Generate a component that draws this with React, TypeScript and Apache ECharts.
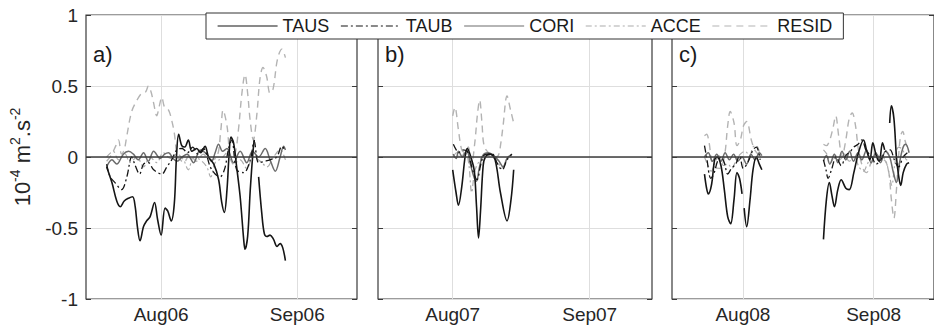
import React, { useEffect, useRef } from 'react';
import * as echarts from 'echarts';

// ---- Data (x = days since Aug 1 of the panel's year, y = 1e-4 m^2 s^-2) ----
const SERIES_NAMES = ['TAUS', 'TAUB', 'CORI', 'ACCE', 'RESID'];
const PANEL_LABELS = ['a)', 'b)', 'c)'];
const YEARS = ['06', '07', '08'];
const MONTH_TICKS = [0, 31];
const MONTH_NAMES = ['Aug', 'Sep'];
const Y_MIN = -1;
const Y_MAX = 1;
const Y_STEP = 0.5;

// Panel a)
const A_TAUS = [[-12.4,-0.07],[-11.2,-0.18],[-10.1,-0.31],[-9.3,-0.35],[-8.4,-0.31],[-7.4,-0.29],[-6.5,-0.28],[-5.9,-0.35],[-5.4,-0.49],[-4.8,-0.59],[-4.0,-0.49],[-3.3,-0.45],[-2.5,-0.42],[-1.5,-0.32],[-0.8,-0.44],[0,-0.55],[0.9,-0.36],[1.5,-0.38],[2.3,-0.45],[3.0,-0.33],[3.5,0.0],[4.0,0.16],[4.7,0.08],[5.4,0.07],[6.2,0.12],[7.0,0.04],[8.1,0.06],[9.0,0.03],[10.0,0.075],[10.8,0.0],[12.0,-0.05],[13.1,-0.16],[13.8,-0.32],[14.4,-0.39],[15.0,-0.23],[15.5,0.03],[15.9,0.14],[16.5,0.1],[17.2,-0.07],[18.0,-0.28],[18.8,-0.58],[19.1,-0.65],[19.7,-0.56],[20.3,-0.23],[20.9,0.03],[21.2,0.12],[21.7,'-'],[22.2,-0.14],[22.9,-0.39],[23.5,-0.54],[24.1,-0.56],[24.8,-0.55],[25.6,-0.58],[26.4,-0.63],[27.1,-0.61],[27.7,-0.64],[28.3,-0.73]];
const A_TAUB = [[-12.4,-0.05],[-11.6,-0.14],[-10.5,-0.18],[-9.0,-0.23],[-7.8,-0.14],[-6.7,0.0],[-5.9,-0.06],[-4.9,-0.12],[-4.0,-0.05],[-2.9,-0.04],[-1.7,-0.09],[0.15,-0.12],[1.3,-0.07],[2.4,-0.02],[3.6,0.05],[4.8,0.06],[6.0,0.03],[7.2,0.07],[8.4,0.02],[9.6,0.06],[11.2,-0.07],[12.3,-0.12],[13.4,-0.14],[14.5,-0.08],[15.3,0.05],[16.1,0.12],[17.2,-0.09],[18.8,-0.11],[20.3,-0.02],[21.2,0.11],[22.2,-0.04],[23.6,-0.03],[24.8,-0.02],[26.3,0.0],[27.5,0.075],[28.3,0.04]];
const A_CORI = [[-12.4,-0.07],[-11.2,-0.02],[-10.1,-0.05],[-8.6,0.02],[-7.4,0.04],[-6.3,0.02],[-5.2,-0.02],[-4.0,0.03],[-2.9,-0.03],[-1.7,0.04],[-0.2,-0.01],[0.8,0.02],[1.7,0.03],[2.7,-0.01],[3.6,-0.03],[4.8,0.0],[5.9,0.02],[7.4,-0.04],[8.9,0.05],[10.4,0.02],[11.5,-0.03],[12.3,0.03],[13.1,0.09],[14.0,0.04],[15.0,0.06],[16.5,-0.04],[18.0,0.04],[19.5,-0.04],[20.8,0.04],[22.2,0.0],[23.7,0.06],[24.8,-0.02],[26.0,-0.1],[27.1,0.0],[27.9,0.075],[28.3,0.05]];
const A_ACCE = [[-12.4,0.0],[-10.9,0.04],[-9.7,-0.02],[-8.2,0.02],[-7.1,-0.04],[-5.5,0.0],[-4.0,-0.07],[-2.5,0.0],[-1.0,-0.04],[0.5,0.03],[2.1,-0.01],[3.6,0.02],[5.1,-0.02],[6.2,-0.09],[7.4,0.0],[8.9,-0.02],[10.4,-0.07],[11.3,-0.14],[12.3,-0.04],[13.8,-0.01],[15.0,0.03],[16.5,-0.05],[18.0,-0.02],[19.5,-0.08],[21.0,0.0],[22.6,-0.03],[24.1,-0.07],[25.6,0.0],[27.1,0.05],[28.3,-0.02]];
const A_RESID = [[-12.4,-0.03],[-11.2,0.02],[-10.3,0.08],[-9.7,0.12],[-9.0,0.02],[-8.4,0.05],[-7.8,0.15],[-6.7,0.32],[-5.5,0.40],[-4.4,0.45],[-3.5,0.46],[-2.9,0.50],[-2.3,0.46],[-1.7,0.38],[-1.0,0.29],[-0.4,0.36],[0.15,0.42],[0.8,0.35],[1.7,0.33],[2.4,0.26],[3.0,0.17],[3.7,0.0],[4.4,-0.02],[5.1,-0.04],[6.6,0.02],[8.0,-0.03],[9.6,0.02],[11.0,-0.02],[12.7,0.0],[13.6,0.19],[14.1,0.33],[15.0,0.22],[15.9,0.0],[16.8,0.02],[17.6,0.19],[18.4,0.45],[19.1,0.58],[19.7,0.45],[20.3,0.25],[21.0,0.12],[21.8,0.3],[22.5,0.55],[23.2,0.63],[24.0,0.57],[24.8,0.45],[25.5,0.48],[26.5,0.69],[27.5,0.76],[28.3,0.70]];

// Panel b)
const B_TAUS = [[0,-0.09],[0.76,-0.25],[1.3,-0.34],[2.05,-0.21],[2.8,0.0],[3.3,0.06],[4.3,-0.02],[4.9,-0.1],[5.4,-0.35],[5.85,-0.57],[6.3,-0.38],[6.9,-0.06],[7.4,0.0],[8.5,0.02],[9.6,-0.02],[10.8,-0.25],[12.3,-0.45],[13.2,-0.3],[13.8,-0.09]];
const B_TAUB = [[0.15,0.09],[0.8,0.05],[1.3,0.03],[2.2,0.05],[3.3,0.04],[4.0,-0.03],[4.7,-0.11],[5.5,-0.16],[6.3,-0.06],[7.0,0.01],[7.8,0.02],[9.0,0.02],[10.0,-0.04],[11.2,-0.09],[12.3,-0.02],[13.4,0.02]];
const B_CORI = [[0.1,0.02],[0.8,-0.01],[1.3,0.04],[2.2,0.0],[3.2,0.05],[4.0,-0.05],[4.9,-0.15],[5.4,-0.17],[6.0,-0.08],[6.8,0.01],[8.0,0.03],[9.3,0.01],[10.5,-0.03],[11.4,-0.07],[12.3,-0.01],[13.4,0.02]];
const B_ACCE = [[0.1,0.0],[0.9,0.03],[1.8,-0.01],[2.8,0.04],[3.6,-0.04],[4.3,-0.25],[5.0,-0.1],[6.2,-0.02],[7.4,0.01],[9.0,0.0],[10.3,-0.04],[11.0,-0.08],[11.7,-0.06],[12.6,0.0],[13.4,0.01]];
const B_RESID = [[0,0.29],[0.5,0.35],[1.3,0.19],[2.05,0.05],[2.8,0.03],[3.5,0.07],[4.3,-0.04],[5.0,0.1],[5.6,0.3],[6.1,0.40],[6.6,0.25],[7.1,0.08],[8.1,0.03],[9.2,0.0],[10.3,0.01],[10.9,0.1],[11.4,0.22],[12.3,0.43],[13.1,0.33],[13.8,0.24]];

// Panel c)
const C_TAUS = [[-9.1,-0.12],[-8.6,-0.22],[-8.2,-0.26],[-7.4,-0.19],[-6.7,-0.02],[-6.1,0.0],[-5.2,-0.06],[-4.4,-0.23],[-3.6,-0.42],[-2.9,-0.47],[-2.1,-0.3],[-1.4,-0.11],[-0.8,-0.15],[-0.2,-0.26],[0.1,'-'],[0.3,-0.36],[0.9,-0.49],[1.7,-0.3],[2.4,-0.09],[3.2,0.0],[3.9,-0.05],[4.5,-0.09],[5,'-'],[19.1,-0.58],[19.8,-0.3],[20.5,-0.18],[21.1,-0.27],[21.7,-0.35],[22.5,-0.23],[23.3,-0.16],[24.4,-0.22],[25.2,-0.23],[26.3,-0.11],[27.4,0.03],[28.6,0.12],[29.3,0.05],[30.1,-0.02],[30.8,0.10],[31.6,0.01],[32.3,-0.03],[33.1,0.10],[33.6,0.05],[34.2,'-'],[34.8,0.24],[35.2,0.36],[35.8,0.27],[36.4,0.0],[36.9,-0.13],[37.4,-0.2],[38.0,-0.11],[38.8,-0.05],[39.4,-0.04]];
const C_TAUB = [[-9.1,0.08],[-8.6,0.0],[-7.6,-0.15],[-6.9,-0.12],[-6.0,-0.03],[-5.2,0.0],[-4.4,-0.04],[-3.6,-0.12],[-2.7,-0.08],[-1.7,-0.05],[-0.8,0.01],[0.1,-0.08],[1.3,-0.03],[2.4,0.05],[3.2,0.07],[4.1,-0.02],[5,'-'],[19.1,-0.02],[19.7,-0.09],[20.2,-0.15],[21.0,-0.09],[22.1,0.0],[23.3,-0.06],[24.4,0.01],[25.5,0.04],[26.3,0.07],[27.3,0.09],[28.2,0.12],[29.3,0.04],[30.4,0.01],[31.6,-0.05],[32.7,-0.02],[33.8,0.04],[34.9,0.05],[35.9,-0.02],[36.9,-0.07],[38.0,0.0],[39.0,0.03]];
const C_CORI = [[-9.1,0.0],[-8.2,0.03],[-7.2,-0.03],[-6.2,0.02],[-5.2,-0.03],[-4.2,0.03],[-3.2,-0.02],[-2.2,0.02],[-1.2,-0.03],[-0.2,0.0],[0.9,-0.05],[1.9,0.02],[2.9,-0.02],[3.9,0.03],[4.5,0.01],[5,'-'],[19.1,-0.03],[19.8,0.01],[20.6,-0.05],[21.7,0.02],[22.5,-0.04],[23.5,0.04],[24.4,-0.02],[25.3,0.04],[26.2,-0.03],[27.3,0.03],[28.2,-0.02],[29.3,0.05],[30.4,-0.04],[31.5,0.03],[32.6,-0.04],[33.8,0.04],[34.8,0.0],[35.6,-0.1],[36.4,-0.18],[37.2,-0.03],[38.0,0.07],[38.6,0.09],[39.4,0.03]];
const C_ACCE = [[-9.1,0.0],[-8.4,-0.05],[-7.5,-0.1],[-6.6,-0.04],[-5.6,0.01],[-4.6,-0.06],[-3.6,-0.05],[-2.6,-0.08],[-1.6,-0.02],[-0.6,0.02],[0.5,0.04],[1.6,0.01],[2.4,0.07],[3.2,0.08],[4.2,0.0],[5,'-'],[19.1,0.05],[19.9,0.02],[20.8,-0.04],[21.9,0.01],[23.0,-0.02],[24.1,0.02],[25.2,-0.03],[26.5,0.0],[27.5,-0.07],[28.6,-0.1],[29.5,-0.05],[30.6,0.0],[31.7,-0.02],[32.8,0.01],[33.9,-0.03],[34.6,-0.11],[35.3,-0.2],[36.0,-0.05],[36.9,0.07],[37.9,0.05],[38.8,-0.02],[39.4,0.0]];
const C_RESID = [[-9.1,0.15],[-8.6,0.16],[-8.0,0.1],[-7.4,-0.03],[-6.7,-0.07],[-5.5,-0.08],[-4.4,0.0],[-3.6,0.22],[-3.0,0.32],[-2.1,0.24],[-1.4,0.08],[-0.6,0.12],[0.15,0.22],[0.9,0.25],[2.0,0.12],[2.8,0.05],[3.6,0.02],[4.3,0.0],[5,'-'],[19.1,0.09],[19.8,0.08],[20.6,0.12],[21.4,0.21],[22.0,0.29],[22.7,0.15],[23.5,0.0],[24.4,0.12],[25.2,0.27],[25.9,0.31],[26.7,0.22],[27.4,0.05],[28.6,-0.09],[29.3,-0.11],[30.4,-0.04],[31.6,0.02],[32.7,-0.01],[33.8,-0.03],[34.6,-0.11],[35.2,-0.3],[35.8,-0.43],[36.4,-0.23],[36.9,0.0],[37.4,0.15],[37.9,0.18],[38.4,0.12],[39.2,0.04]];

const PANEL_DATA: Record<string, any[]>[] = [
  { TAUS: A_TAUS, TAUB: A_TAUB, CORI: A_CORI, ACCE: A_ACCE, RESID: A_RESID },
  { TAUS: B_TAUS, TAUB: B_TAUB, CORI: B_CORI, ACCE: B_ACCE, RESID: B_RESID },
  { TAUS: C_TAUS, TAUB: C_TAUB, CORI: C_CORI, ACCE: C_ACCE, RESID: C_RESID },
];

// ---- Layout / style ----
const FONT = '"Liberation Sans", Arial, Helvetica, sans-serif';
const GRID_LEFT = [86, 378, 672];
const GRID_WIDTH = [271, 274, 274];
const GRID_TOP = 15;
const GRID_HEIGHT = 284;
const X_RANGE = [[-17.1, 44.6], [-16.9, 45.1], [-16.8, 45.3]];
const GRID_COLOR = '#dedede';
const FRAME_COLOR = '#3a3a3a';
const TEXT_COLOR = '#262626';

const LINE_STYLES: Record<string, any> = {
  TAUS: { color: '#151515', width: 1.6, type: 'solid' },
  TAUB: { color: '#151515', width: 1.3, type: [7, 3, 2, 3] },
  CORI: { color: '#6c6c6c', width: 1.5, type: 'solid' },
  ACCE: { color: '#ababab', width: 1.2, type: [6, 3, 2, 3] },
  RESID: { color: '#b3b3b3', width: 1.4, type: [7, 5] },
};
const DRAW_ORDER = ['RESID', 'ACCE', 'CORI', 'TAUB', 'TAUS'];

function buildOption() {
  const grid: any[] = [];
  const xAxis: any[] = [];
  const yAxis: any[] = [];
  const series: any[] = [];
  const graphic: any[] = [];

  for (let g = 0; g < 3; g++) {
    grid.push({
      left: GRID_LEFT[g], top: GRID_TOP, width: GRID_WIDTH[g], height: GRID_HEIGHT,
      show: true, borderColor: FRAME_COLOR, borderWidth: 1.2, backgroundColor: '#fff',
      containLabel: false,
    });
    const yr = YEARS[g];
    xAxis.push({
      type: 'value', gridIndex: g, position: 'bottom', min: X_RANGE[g][0], max: X_RANGE[g][1],
      axisLine: { show: false, onZero: false },
      axisTick: { show: true, inside: true, length: 5, customValues: MONTH_TICKS, lineStyle: { color: FRAME_COLOR } },
      axisLabel: {
        customValues: MONTH_TICKS, fontSize: 19, color: TEXT_COLOR, fontFamily: FONT, margin: 6,
        formatter: (v: number) => MONTH_NAMES[MONTH_TICKS.indexOf(Math.round(v))] + yr,
      },
      splitLine: { show: false },
    });
    xAxis.push({
      type: 'value', gridIndex: g, position: 'top', min: X_RANGE[g][0], max: X_RANGE[g][1],
      axisLine: { show: false, onZero: false },
      axisTick: { show: true, inside: true, length: 5, customValues: MONTH_TICKS, lineStyle: { color: FRAME_COLOR } },
      axisLabel: { show: false },
      splitLine: { show: false },
    });
    yAxis.push({
      type: 'value', gridIndex: g, position: 'left', min: Y_MIN, max: Y_MAX, interval: Y_STEP,
      axisLine: { show: false, onZero: false },
      axisTick: { show: true, inside: true, length: 5, lineStyle: { color: FRAME_COLOR } },
      axisLabel: { show: g === 0, fontSize: 19, color: TEXT_COLOR, fontFamily: FONT, margin: 8 },
      splitLine: { show: true, lineStyle: { color: GRID_COLOR, width: 1 } },
      name: g === 0 ? '10{s|-4} m{s|2}.s{s|-2}' : '',
      nameLocation: 'middle', nameGap: 50, nameRotate: 90,
      nameTextStyle: {
        fontSize: 22, color: TEXT_COLOR, fontFamily: FONT, lineHeight: 28,
        rich: { s: { fontSize: 14, lineHeight: 14, verticalAlign: 'top', fontFamily: FONT, color: TEXT_COLOR } },
      },
    });
    yAxis.push({
      type: 'value', gridIndex: g, position: 'right', min: Y_MIN, max: Y_MAX, interval: Y_STEP,
      axisLine: { show: false, onZero: false },
      axisTick: { show: true, inside: true, length: 5, lineStyle: { color: FRAME_COLOR } },
      axisLabel: { show: false },
      splitLine: { show: false },
    });

    DRAW_ORDER.forEach((name) => {
      const ls = LINE_STYLES[name];
      const s: any = {
        type: 'line', name, xAxisIndex: 2 * g, yAxisIndex: 2 * g,
        data: PANEL_DATA[g][name], symbol: 'none', showSymbol: false, smooth: 0.35,
        connectNulls: false, clip: true, z: 3,
        lineStyle: { color: ls.color, width: ls.width, type: ls.type },
        itemStyle: { color: ls.color },
        emphasis: { disabled: true },
      };
      if (name === 'RESID') {
        // vertical grid lines at the month ticks
        s.markLine = {
          silent: true, symbol: ['none', 'none'], label: { show: false }, z: 1,
          lineStyle: { color: GRID_COLOR, width: 1, type: 'solid' },
          emphasis: { disabled: true },
          data: MONTH_TICKS.map((t) => ({ xAxis: t })),
        };
      }
      if (name === 'TAUS') {
        s.markLine = {
          silent: true, symbol: ['none', 'none'], label: { show: false },
          lineStyle: { color: '#3c3c3c', width: 1.6, type: 'solid' },
          emphasis: { disabled: true },
          data: [{ yAxis: 0 }],
        };
      }
      series.push(s);
    });

    graphic.push({
      type: 'text', left: GRID_LEFT[g] + 7, top: 43, z: 10,
      style: { text: PANEL_LABELS[g], fontSize: 22, fill: '#1a1a1a', fontFamily: FONT },
    });
  }

  return {
    animation: false,
    backgroundColor: '#fff',
    grid, xAxis, yAxis, series, graphic,
    legend: {
      data: SERIES_NAMES, left: 206, top: 13, orient: 'horizontal',
      backgroundColor: '#fff', borderColor: '#333', borderWidth: 1, borderRadius: 0,
      padding: [4, 11, 4, 11], itemWidth: 60, itemHeight: 14, itemGap: 11,
      textStyle: { fontSize: 18, color: '#1a1a1a', fontFamily: FONT },
      lineStyle: { width: 1.2 },
      itemStyle: { opacity: 0, borderWidth: 0 },
      selectedMode: false, z: 20,
    },
  };
}

export default function App() {
  const ref = useRef<HTMLDivElement>(null);
  useEffect(() => {
    if (!ref.current) return;
    const chart = echarts.init(ref.current, undefined, { renderer: 'svg' });
    chart.setOption(buildOption() as any);
    return () => chart.dispose();
  }, []);
  return (
    <div
      ref={ref}
      style={{ position: 'fixed', left: 0, top: 0, width: 934, height: 333, background: '#fff' }}
    />
  );
}
